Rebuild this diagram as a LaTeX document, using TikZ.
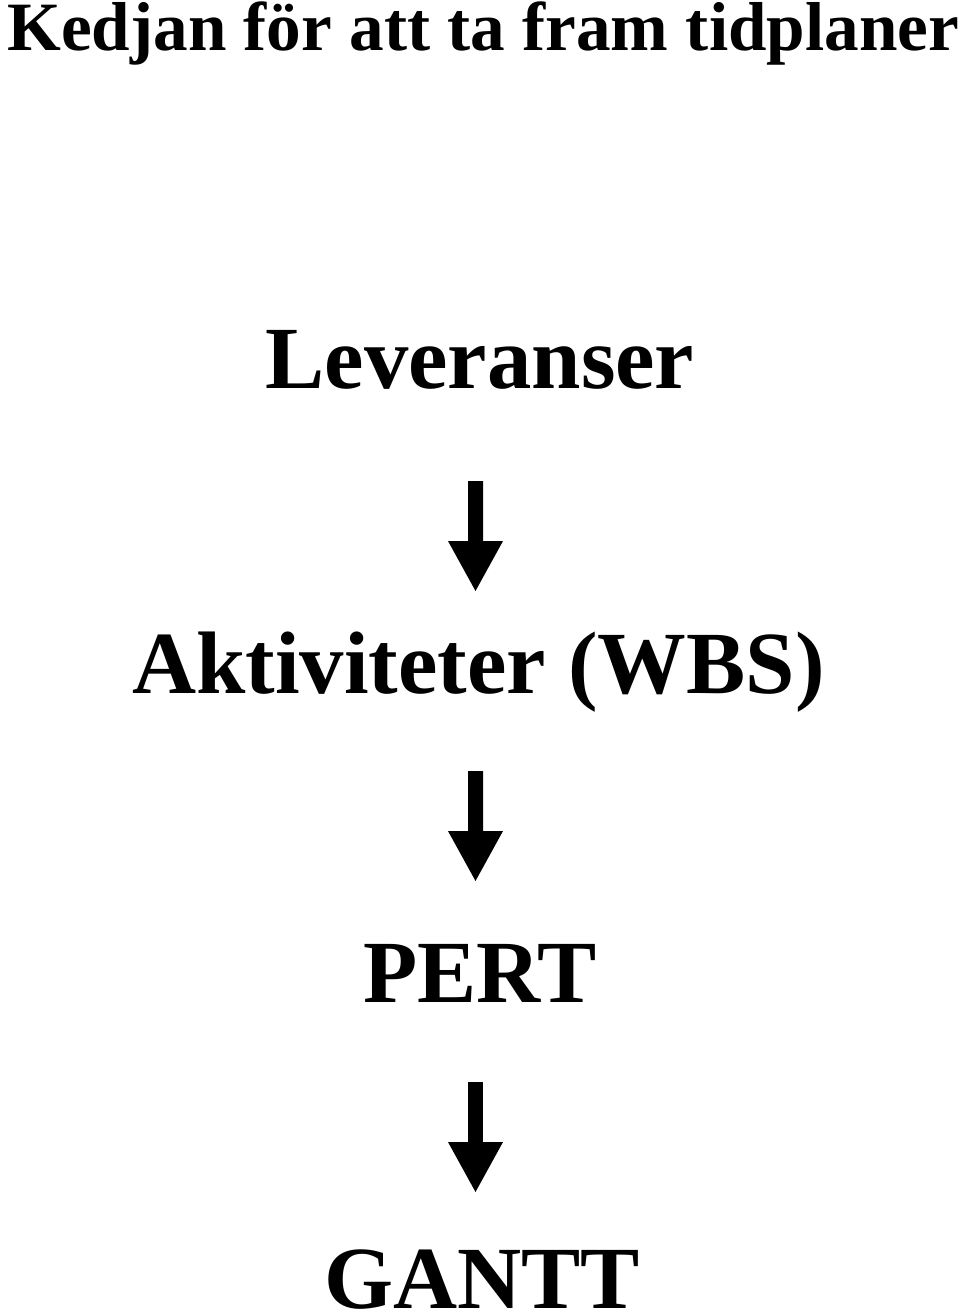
\documentclass[tikz,border=0pt]{standalone}
\usepackage{fontspec}
\setmainfont{Liberation Serif}
\usetikzlibrary{arrows.meta, positioning, calc}

\begin{document}
\begin{tikzpicture}[
        x=0.02cm, y=-0.02cm,
        heading/.style={anchor=base west, inner sep=0pt, font=\fontsize{39.4}{46}\selectfont\bfseries},
        stage/.style={anchor=base, inner sep=0pt, font=\fontsize{50.5}{60}\selectfont\bfseries},
        flow/.style={line width=0.3cm, draw=black, -{Triangle[width=1.02cm, length=1.02cm]}}
    ]
        \useasboundingbox (0,0) rectangle (960,1312);
        \node[heading] (title) at (7, 50) {Kedjan för att ta fram tidplaner};
        \node[stage] (lev) at (480, 388) {Leveranser};
        \node[stage] (akt) at (478.5, 693) {Aktiviteter (WBS)};
        \node[stage] (pert) at (480, 1002) {PERT};
        \node[stage] (gantt) at (482, 1308) {GANTT};
        \draw[flow] ($(lev.base)+(-4.5,93)$) -- ($(akt.base)+(-3,-101)$);
        \draw[flow] ($(akt.base)+(-3,78)$) -- ($(pert.base)+(-4.5,-120)$);
        \draw[flow] ($(pert.base)+(-4.5,80)$) -- ($(gantt.base)+(-6.5,-115)$);
    \end{tikzpicture}
\end{document}
